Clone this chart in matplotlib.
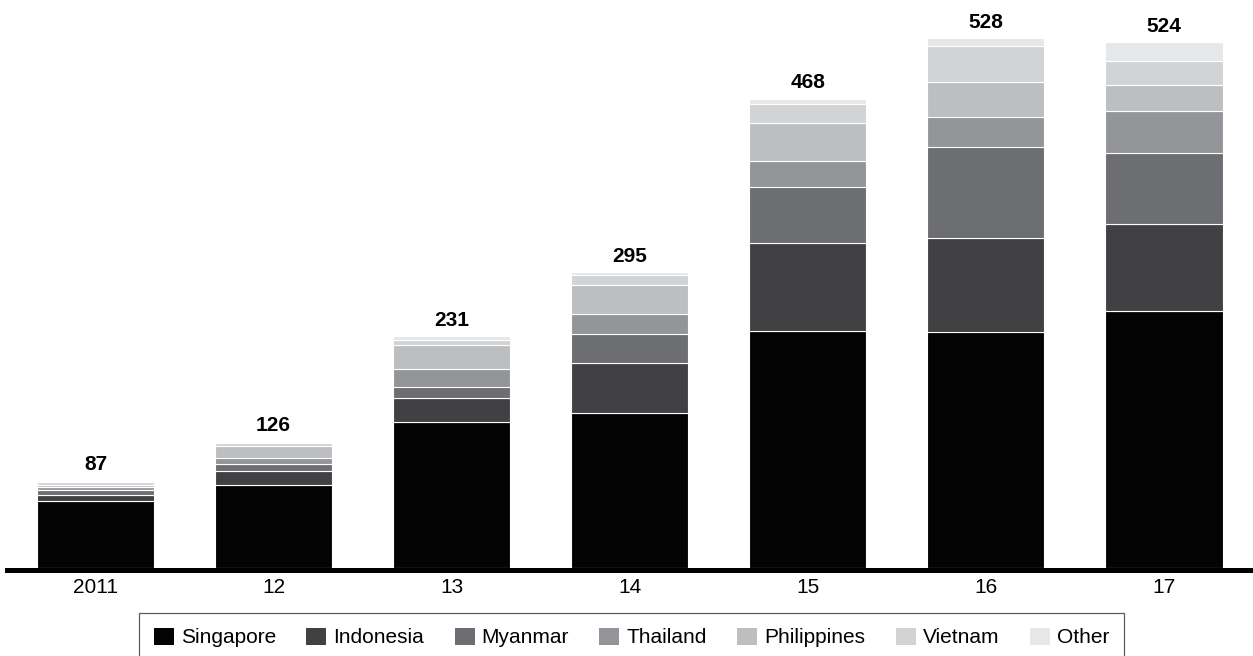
import numpy as np
import matplotlib
matplotlib.use("Agg")
import matplotlib.pyplot as plt

plt.rcParams["font.family"] = ["Liberation Sans", "DejaVu Sans"]

years = ["2011", "12", "13", "14", "15", "16", "17"]
totals = [87, 126, 231, 295, 468, 528, 524]

countries = ["Singapore", "Indonesia", "Myanmar", "Thailand", "Philippines", "Vietnam", "Other"]
singapore = [67, 83, 146, 155, 236, 235, 256]
indonesia = [6, 14, 23, 49, 88, 94, 87]
myanmar = [5, 7, 11, 29, 56, 91, 71]
thailand = [3, 6, 18, 20, 26, 30, 42]
philippines = [2, 12, 24, 29, 38, 35, 26]
vietnam = [3, 3, 5, 10, 19, 35, 23]
other = [1, 1, 4, 3, 5, 8, 19]

series = [singapore, indonesia, myanmar, thailand, philippines, vietnam, other]
colors = ["#030303", "#414042", "#6d6e71", "#939598", "#bcbec0", "#d1d3d4", "#e6e7e8"]

W, H = 1253, 656
fig = plt.figure(figsize=(W / 100, H / 100), dpi=100)
ax = fig.add_axes([7 / W, (H - 573) / H, (W - 7) / W, 573 / H])

x = np.arange(len(years))
bottom = np.zeros(len(years))
handles = []
for name, vals, c in zip(countries, series, colors):
    b = ax.bar(x, vals, width=0.658, bottom=bottom, color=c,
               edgecolor="white", linewidth=0.8, label=name)
    handles.append(b)
    bottom += np.array(vals)

# total labels on top of each bar
for xi, top, t in zip(x, bottom, totals):
    ax.annotate(str(t), (xi, top), xytext=(0, 7.5), textcoords="offset points",
                ha="center", va="baseline", fontsize=15, fontweight="bold")

ax.axhline(-2.5, color="black", linewidth=3.6, clip_on=False)
ax.set_xlim(-0.497, 6.5)
ax.set_ylim(-5, 566.3)
ax.set_xticks(x)
ax.set_xticklabels(years, fontsize=15)
ax.tick_params(axis="x", length=0, pad=3.6)
ax.set_yticks([])
for s in ax.spines.values():
    s.set_visible(False)

fs = 15 * 100 / 72
leg = fig.legend(handles, countries, loc="upper left",
                 bbox_to_anchor=(139 / W, 1 - 613 / H), bbox_transform=fig.transFigure,
                 ncol=7, fontsize=15, frameon=True, fancybox=False,
                 borderaxespad=0, borderpad=0.7,
                 handlelength=20 / fs, handleheight=19 / fs,
                 handletextpad=7 / fs, columnspacing=30.5 / fs)
leg.get_frame().set_edgecolor("#333333")
leg.get_frame().set_linewidth(0.9)
for p in leg.get_patches():
    p.set_edgecolor("none")

fig.savefig("out.png", dpi=100)
